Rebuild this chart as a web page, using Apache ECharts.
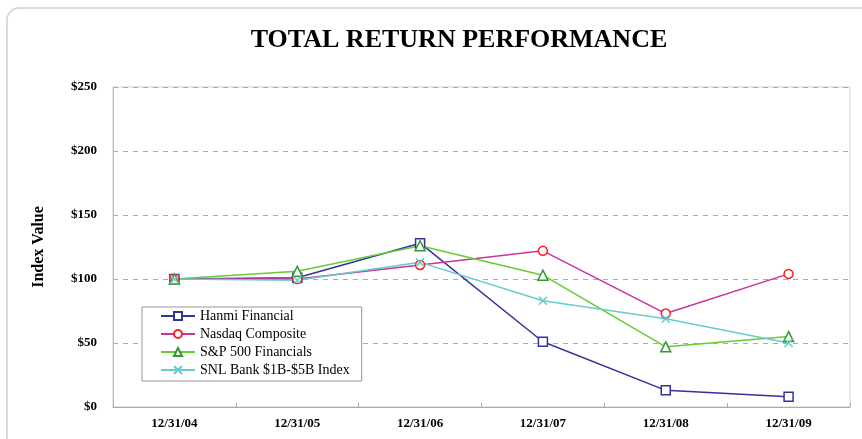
<!DOCTYPE html>
<html lang="en" style="height: 100%">
<head>
  <meta charset="utf-8">
</head>
<body style="height: 100%; margin: 0; background: #fff">
<div id="container" style="width: 862px; height: 439px"></div>
<script type="text/javascript" src="https://cdn.jsdelivr.net/npm/echarts@6/dist/echarts.min.js"></script>
<script type="text/javascript">
  var years = ['12/31/04', '12/31/05', '12/31/06', '12/31/07', '12/31/08', '12/31/09'];
  var hanmi = [100, 101, 128, 51, 13, 8];
  var nasdaq = [100, 100, 111, 122, 73, 104];
  var spFin = [100, 106, 126, 103, 47, 55];
  var snlBank = [100, 99, 113, 83, 69, 50];

  var serif = '"Liberation Serif", "DejaVu Serif", serif';
  var myChart = echarts.init(document.getElementById('container'), null, { renderer: 'canvas' });

  function line(name, data, lineColor, markColor, symbol, size) {
    return {
      name: name,
      type: 'line',
      data: data,
      symbol: symbol,
      symbolSize: size,
      showSymbol: true,
      lineStyle: { color: lineColor, width: 1.5 },
      itemStyle: { color: '#fff', borderColor: markColor, borderWidth: 1.5 },
      emphasis: { disabled: true }
    };
  }

  var option = {
    animation: false,
    graphic: [{
      type: 'rect',
      shape: { x: 7, y: 8, width: 870, height: 450, r: 12 },
      style: { fill: 'none', stroke: '#cfcfcf', lineWidth: 1.5 },
      silent: true
    }],
    title: {
      text: 'TOTAL RETURN PERFORMANCE',
      left: 454,
      top: 22,
      textAlign: 'center',
      textStyle: { fontFamily: serif, fontSize: 26, fontWeight: 'bold', color: '#000' }
    },
    legend: {
      orient: 'vertical',
      left: 142,
      top: 307,
      padding: [2, 12, 4, 18],
      itemGap: 4,
      itemWidth: 34,
      itemHeight: 10,
      borderColor: '#999',
      borderWidth: 1,
      backgroundColor: '#fff',
      textStyle: { fontFamily: serif, fontSize: 14, color: '#000' },
      data: ['Hanmi Financial', 'Nasdaq Composite', 'S&P 500 Financials', 'SNL Bank $1B-$5B Index']
    },
    grid: {
      left: 113, right: 12, top: 87, bottom: 32,
      show: true, borderColor: '#d0d0d0', borderWidth: 1
    },
    xAxis: {
      type: 'category',
      data: years,
      boundaryGap: true,
      axisLine: { lineStyle: { color: '#aaa' } },
      axisTick: { show: true, inside: true, length: 4, lineStyle: { color: '#aaa' } },
      axisLabel: { fontFamily: serif, fontSize: 13, fontWeight: 'bold', color: '#000', margin: 10 }
    },
    yAxis: {
      type: 'value',
      min: 0, max: 250, interval: 50,
      name: 'Index Value',
      nameLocation: 'middle',
      nameGap: 66,
      nameTextStyle: { fontFamily: serif, fontSize: 16, fontWeight: 'bold', color: '#000' },
      axisLine: { show: true, lineStyle: { color: '#bbb' } },
      axisTick: { show: false },
      axisLabel: {
        fontFamily: serif, fontSize: 13, fontWeight: 'bold', color: '#000', margin: 16,
        formatter: function (v) { return '$' + v; }
      },
      splitLine: { lineStyle: { color: '#aaa', type: [5, 5] } }
    },
    series: [
      line('Hanmi Financial', hanmi, '#333399', '#333399', 'rect', 9),
      line('Nasdaq Composite', nasdaq, '#cc3399', '#ff2020', 'circle', 9),
      line('S&P 500 Financials', spFin, '#66cc33', '#339933', 'triangle', 10),
      line('SNL Bank $1B-$5B Index', snlBank, '#66cccc', '#66cccc', 'path://M0,0L10,10M10,0L0,10', 8)
    ]
  };
  myChart.setOption(option);
</script>
</body>
</html>
